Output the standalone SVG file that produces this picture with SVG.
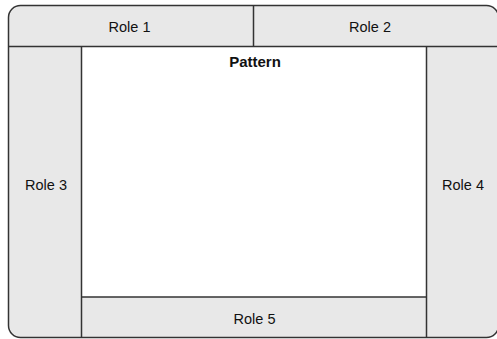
<svg xmlns="http://www.w3.org/2000/svg" width="497" height="339" viewBox="0 0 497 339">
<style>
.band{fill:#e8e8e8;stroke:none}
.line{stroke:#333;stroke-width:1.5;fill:none}
.lbl{font-family:"Liberation Sans",Arial,sans-serif;font-size:14.5px;fill:#111;text-anchor:middle}
.ttl{font-family:"Liberation Sans",Arial,sans-serif;font-size:15px;font-weight:bold;fill:#111;text-anchor:middle}
</style>
<rect width="497" height="339" fill="#fff"/>
<g id="frame">
<rect x="8.5" y="5.5" width="490" height="332" rx="12" class="band"/>
</g>
<g id="pattern">
<rect x="81.5" y="46.5" width="345" height="250.5" fill="#fff"/>
<text x="255" y="67" class="ttl">Pattern</text>
</g>
<g id="role1"><text x="129.5" y="32" class="lbl">Role 1</text></g>
<g id="role2"><text x="370" y="32" class="lbl">Role 2</text></g>
<g id="role3"><text x="46" y="190" class="lbl">Role 3</text></g>
<g id="role4"><text x="463" y="190" class="lbl">Role 4</text></g>
<g id="role5"><text x="254.5" y="324" class="lbl">Role 5</text></g>
<g id="connectors">
<rect x="8.5" y="5.5" width="490" height="332" rx="12" class="line"/>
<line x1="8.5" y1="46.5" x2="497" y2="46.5" class="line"/>
<line x1="253.5" y1="5.5" x2="253.5" y2="46.5" class="line"/>
<line x1="81.5" y1="46.5" x2="81.5" y2="337.5" class="line"/>
<line x1="426.5" y1="46.5" x2="426.5" y2="337.5" class="line"/>
<line x1="81.5" y1="297" x2="426.5" y2="297" class="line"/>
</g>
</svg>
